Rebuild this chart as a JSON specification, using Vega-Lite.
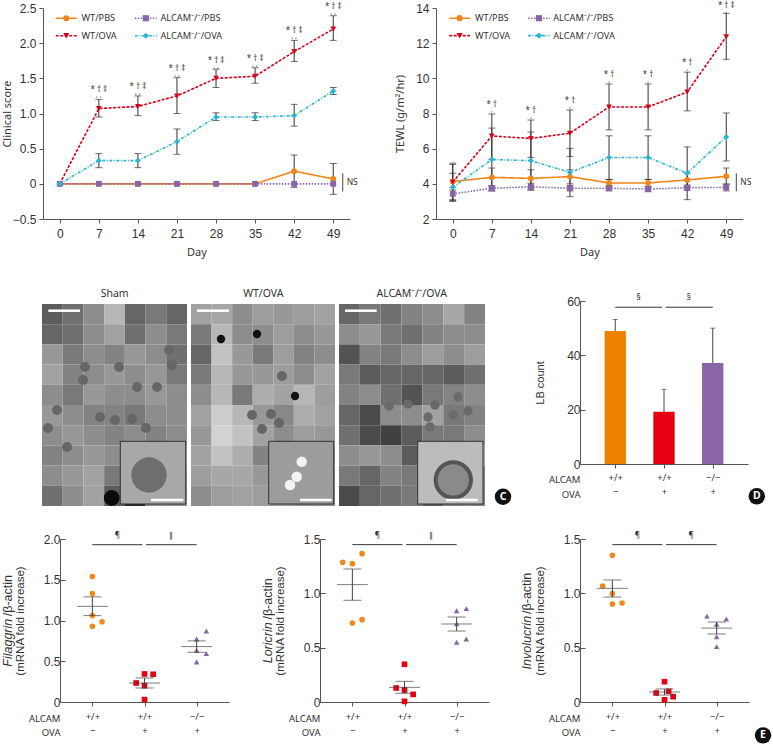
{"$schema":"https://vega.github.io/schema/vega-lite/v6.json","autosize":"none","width":773,"height":746,"padding":0,"background":"white",
"config":{"view":{"stroke":null},"axis":{"grid":false,"domainColor":"#555","tickColor":"#555","domainWidth":1,"tickWidth":1,"labelColor":"#333","titleColor":"#333","labelFont":"Liberation Sans","labelFontSize":12,"titleFont":"Noto Sans","titleFontSize":11,"titleFontWeight":"normal","labelFlush":false,"labelOverlap":false,"tickSize":4,"labelPadding":3},"text":{"font":"Noto Sans","color":"#333"}},
"resolve":{"scale":{"x":"independent","y":"independent","color":"independent","shape":"independent","strokeDash":"independent"},"axis":{"x":"independent","y":"independent"}},
"datasets":{
"clin":[
{"day":0,"series":"WT/PBS","score":0},{"day":7,"series":"WT/PBS","score":0},{"day":14,"series":"WT/PBS","score":0},{"day":21,"series":"WT/PBS","score":0},{"day":28,"series":"WT/PBS","score":0},{"day":35,"series":"WT/PBS","score":0},{"day":42,"series":"WT/PBS","score":0.18,"lo":-0.05,"hi":0.41},{"day":49,"series":"WT/PBS","score":0.07,"lo":-0.15,"hi":0.29},
{"day":0,"series":"WT/OVA","score":0},{"day":7,"series":"WT/OVA","score":1.07,"lo":0.95,"hi":1.2},{"day":14,"series":"WT/OVA","score":1.1,"lo":0.97,"hi":1.25},{"day":21,"series":"WT/OVA","score":1.25,"lo":1.0,"hi":1.51},{"day":28,"series":"WT/OVA","score":1.5,"lo":1.37,"hi":1.63},{"day":35,"series":"WT/OVA","score":1.53,"lo":1.43,"hi":1.65},{"day":42,"series":"WT/OVA","score":1.88,"lo":1.74,"hi":2.04},{"day":49,"series":"WT/OVA","score":2.2,"lo":2.04,"hi":2.39},
{"day":0,"series":"ALCAM⁻/⁻/PBS","score":0},{"day":7,"series":"ALCAM⁻/⁻/PBS","score":0},{"day":14,"series":"ALCAM⁻/⁻/PBS","score":0},{"day":21,"series":"ALCAM⁻/⁻/PBS","score":0},{"day":28,"series":"ALCAM⁻/⁻/PBS","score":0},{"day":35,"series":"ALCAM⁻/⁻/PBS","score":0},{"day":42,"series":"ALCAM⁻/⁻/PBS","score":0},{"day":49,"series":"ALCAM⁻/⁻/PBS","score":0},
{"day":0,"series":"ALCAM⁻/⁻/OVA","score":0},{"day":7,"series":"ALCAM⁻/⁻/OVA","score":0.33,"lo":0.23,"hi":0.43},{"day":14,"series":"ALCAM⁻/⁻/OVA","score":0.33,"lo":0.23,"hi":0.43},{"day":21,"series":"ALCAM⁻/⁻/OVA","score":0.6,"lo":0.42,"hi":0.78},{"day":28,"series":"ALCAM⁻/⁻/OVA","score":0.95,"lo":0.9,"hi":1.01},{"day":35,"series":"ALCAM⁻/⁻/OVA","score":0.95,"lo":0.9,"hi":1.01},{"day":42,"series":"ALCAM⁻/⁻/OVA","score":0.97,"lo":0.82,"hi":1.13},{"day":49,"series":"ALCAM⁻/⁻/OVA","score":1.32,"lo":1.27,"hi":1.37}],
"tewl":[
{"day":0,"series":"WT/PBS","score":4.13,"lo":3.65,"hi":4.6},{"day":7,"series":"WT/PBS","score":4.37,"lo":3.85,"hi":4.9},{"day":14,"series":"WT/PBS","score":4.31,"lo":3.85,"hi":4.8},{"day":21,"series":"WT/PBS","score":4.41,"lo":4.0,"hi":4.8},{"day":28,"series":"WT/PBS","score":4.05,"lo":3.85,"hi":4.25},{"day":35,"series":"WT/PBS","score":4.05,"lo":3.85,"hi":4.25},{"day":42,"series":"WT/PBS","score":4.22,"lo":3.85,"hi":4.6},{"day":49,"series":"WT/PBS","score":4.43,"lo":3.95,"hi":4.9},
{"day":0,"series":"WT/OVA","score":4.1,"lo":3.05,"hi":5.18},{"day":7,"series":"WT/OVA","score":6.72,"lo":5.4,"hi":7.97},{"day":14,"series":"WT/OVA","score":6.58,"lo":5.5,"hi":7.63},{"day":21,"series":"WT/OVA","score":6.88,"lo":5.56,"hi":8.2},{"day":28,"series":"WT/OVA","score":8.37,"lo":7.07,"hi":9.68},{"day":35,"series":"WT/OVA","score":8.37,"lo":7.07,"hi":9.68},{"day":42,"series":"WT/OVA","score":9.22,"lo":8.15,"hi":10.35},{"day":49,"series":"WT/OVA","score":12.37,"lo":11.08,"hi":13.7},
{"day":0,"series":"ALCAM⁻/⁻/PBS","score":3.43,"lo":3.1,"hi":3.8},{"day":7,"series":"ALCAM⁻/⁻/PBS","score":3.75,"lo":3.6,"hi":3.9},{"day":14,"series":"ALCAM⁻/⁻/PBS","score":3.83,"lo":3.63,"hi":4.03},{"day":21,"series":"ALCAM⁻/⁻/PBS","score":3.75,"lo":3.6,"hi":3.9},{"day":28,"series":"ALCAM⁻/⁻/PBS","score":3.75,"lo":3.6,"hi":3.9},{"day":35,"series":"ALCAM⁻/⁻/PBS","score":3.7,"lo":3.55,"hi":3.85},{"day":42,"series":"ALCAM⁻/⁻/PBS","score":3.78,"lo":3.63,"hi":3.93},{"day":49,"series":"ALCAM⁻/⁻/PBS","score":3.8,"lo":3.6,"hi":4.0},
{"day":0,"series":"ALCAM⁻/⁻/OVA","score":3.8,"lo":3.0,"hi":5.1},{"day":7,"series":"ALCAM⁻/⁻/OVA","score":5.38,"lo":3.6,"hi":7.17},{"day":14,"series":"ALCAM⁻/⁻/OVA","score":5.32,"lo":3.7,"hi":6.95},{"day":21,"series":"ALCAM⁻/⁻/OVA","score":4.65,"lo":3.27,"hi":6.02},{"day":28,"series":"ALCAM⁻/⁻/OVA","score":5.5,"lo":4.25,"hi":6.73},{"day":35,"series":"ALCAM⁻/⁻/OVA","score":5.5,"lo":4.25,"hi":6.73},{"day":42,"series":"ALCAM⁻/⁻/OVA","score":4.6,"lo":3.1,"hi":6.1},{"day":49,"series":"ALCAM⁻/⁻/OVA","score":6.67,"lo":5.3,"hi":8.03}],
"micro1":[
{"c":0,"r":0,"g":100},{"c":1,"r":0,"g":120},{"c":2,"r":0,"g":150},{"c":3,"r":0,"g":190},{"c":4,"r":0,"g":110},{"c":5,"r":0,"g":130},{"c":6,"r":0,"g":110},
{"c":0,"r":1,"g":110},{"c":1,"r":1,"g":120},{"c":2,"r":1,"g":150},{"c":3,"r":1,"g":170},{"c":4,"r":1,"g":120},{"c":5,"r":1,"g":150},{"c":6,"r":1,"g":130},
{"c":0,"r":2,"g":160},{"c":1,"r":2,"g":130},{"c":2,"r":2,"g":150},{"c":3,"r":2,"g":140},{"c":4,"r":2,"g":160},{"c":5,"r":2,"g":150},{"c":6,"r":2,"g":120},
{"c":0,"r":3,"g":170},{"c":1,"r":3,"g":140},{"c":2,"r":3,"g":150},{"c":3,"r":3,"g":160},{"c":4,"r":3,"g":150},{"c":5,"r":3,"g":160},{"c":6,"r":3,"g":130},
{"c":0,"r":4,"g":150},{"c":1,"r":4,"g":130},{"c":2,"r":4,"g":160},{"c":3,"r":4,"g":150},{"c":4,"r":4,"g":150},{"c":5,"r":4,"g":160},{"c":6,"r":4,"g":150},
{"c":0,"r":5,"g":160},{"c":1,"r":5,"g":150},{"c":2,"r":5,"g":140},{"c":3,"r":5,"g":140},{"c":4,"r":5,"g":130},{"c":5,"r":5,"g":150},{"c":6,"r":5,"g":150},
{"c":0,"r":6,"g":150},{"c":1,"r":6,"g":160},{"c":2,"r":6,"g":150},{"c":3,"r":6,"g":140},{"c":4,"r":6,"g":150},{"c":5,"r":6,"g":140},{"c":6,"r":6,"g":150},
{"c":0,"r":7,"g":140},{"c":1,"r":7,"g":150},{"c":2,"r":7,"g":160},{"c":3,"r":7,"g":150},{"c":4,"r":7,"g":140},{"c":5,"r":7,"g":170},{"c":6,"r":7,"g":170},
{"c":0,"r":8,"g":150},{"c":1,"r":8,"g":160},{"c":2,"r":8,"g":170},{"c":3,"r":8,"g":130},{"c":4,"r":8,"g":150},{"c":5,"r":8,"g":150},{"c":6,"r":8,"g":150},
{"c":0,"r":9,"g":120},{"c":1,"r":9,"g":150},{"c":2,"r":9,"g":170},{"c":3,"r":9,"g":100},{"c":4,"r":9,"g":40},{"c":5,"r":9,"g":150},{"c":6,"r":9,"g":150}],
"micro2":[
{"c":0,"r":0,"g":170},{"c":1,"r":0,"g":175},{"c":2,"r":0,"g":150},{"c":3,"r":0,"g":165},{"c":4,"r":0,"g":160},{"c":5,"r":0,"g":165},{"c":6,"r":0,"g":170},
{"c":0,"r":1,"g":130},{"c":1,"r":1,"g":190},{"c":2,"r":1,"g":150},{"c":3,"r":1,"g":150},{"c":4,"r":1,"g":165},{"c":5,"r":1,"g":150},{"c":6,"r":1,"g":160},
{"c":0,"r":2,"g":110},{"c":1,"r":2,"g":200},{"c":2,"r":2,"g":160},{"c":3,"r":2,"g":130},{"c":4,"r":2,"g":165},{"c":5,"r":2,"g":140},{"c":6,"r":2,"g":150},
{"c":0,"r":3,"g":130},{"c":1,"r":3,"g":190},{"c":2,"r":3,"g":160},{"c":3,"r":3,"g":160},{"c":4,"r":3,"g":165},{"c":5,"r":3,"g":150},{"c":6,"r":3,"g":170},
{"c":0,"r":4,"g":150},{"c":1,"r":4,"g":190},{"c":2,"r":4,"g":130},{"c":3,"r":4,"g":180},{"c":4,"r":4,"g":170},{"c":5,"r":4,"g":190},{"c":6,"r":4,"g":165},
{"c":0,"r":5,"g":170},{"c":1,"r":5,"g":210},{"c":2,"r":5,"g":190},{"c":3,"r":5,"g":160},{"c":4,"r":5,"g":145},{"c":5,"r":5,"g":180},{"c":6,"r":5,"g":170},
{"c":0,"r":6,"g":160},{"c":1,"r":6,"g":215},{"c":2,"r":6,"g":200},{"c":3,"r":6,"g":170},{"c":4,"r":6,"g":150},{"c":5,"r":6,"g":165},{"c":6,"r":6,"g":160},
{"c":0,"r":7,"g":170},{"c":1,"r":7,"g":200},{"c":2,"r":7,"g":180},{"c":3,"r":7,"g":140},{"c":4,"r":7,"g":130},{"c":5,"r":7,"g":155},{"c":6,"r":7,"g":150},
{"c":0,"r":8,"g":165},{"c":1,"r":8,"g":175},{"c":2,"r":8,"g":175},{"c":3,"r":8,"g":160},{"c":4,"r":8,"g":150},{"c":5,"r":8,"g":150},{"c":6,"r":8,"g":150},
{"c":0,"r":9,"g":150},{"c":1,"r":9,"g":165},{"c":2,"r":9,"g":170},{"c":3,"r":9,"g":165},{"c":4,"r":9,"g":160},{"c":5,"r":9,"g":150},{"c":6,"r":9,"g":150}],
"micro3":[
{"c":0,"r":0,"g":110},{"c":1,"r":0,"g":130},{"c":2,"r":0,"g":120},{"c":3,"r":0,"g":140},{"c":4,"r":0,"g":150},{"c":5,"r":0,"g":175},{"c":6,"r":0,"g":140},
{"c":0,"r":1,"g":150},{"c":1,"r":1,"g":160},{"c":2,"r":1,"g":130},{"c":3,"r":1,"g":120},{"c":4,"r":1,"g":140},{"c":5,"r":1,"g":150},{"c":6,"r":1,"g":150},
{"c":0,"r":2,"g":90},{"c":1,"r":2,"g":140},{"c":2,"r":2,"g":130},{"c":3,"r":2,"g":150},{"c":4,"r":2,"g":165},{"c":5,"r":2,"g":150},{"c":6,"r":2,"g":165},
{"c":0,"r":3,"g":130},{"c":1,"r":3,"g":100},{"c":2,"r":3,"g":110},{"c":3,"r":3,"g":110},{"c":4,"r":3,"g":110},{"c":5,"r":3,"g":100},{"c":6,"r":3,"g":120},
{"c":0,"r":4,"g":140},{"c":1,"r":4,"g":150},{"c":2,"r":4,"g":120},{"c":3,"r":4,"g":90},{"c":4,"r":4,"g":130},{"c":5,"r":4,"g":140},{"c":6,"r":4,"g":150},
{"c":0,"r":5,"g":110},{"c":1,"r":5,"g":80},{"c":2,"r":5,"g":150},{"c":3,"r":5,"g":150},{"c":4,"r":5,"g":170},{"c":5,"r":5,"g":130},{"c":6,"r":5,"g":140},
{"c":0,"r":6,"g":120},{"c":1,"r":6,"g":80},{"c":2,"r":6,"g":70},{"c":3,"r":6,"g":100},{"c":4,"r":6,"g":130},{"c":5,"r":6,"g":130},{"c":6,"r":6,"g":150},
{"c":0,"r":7,"g":150},{"c":1,"r":7,"g":160},{"c":2,"r":7,"g":150},{"c":3,"r":7,"g":100},{"c":4,"r":7,"g":140},{"c":5,"r":7,"g":140},{"c":6,"r":7,"g":170},
{"c":0,"r":8,"g":130},{"c":1,"r":8,"g":110},{"c":2,"r":8,"g":140},{"c":3,"r":8,"g":130},{"c":4,"r":8,"g":120},{"c":5,"r":8,"g":140},{"c":6,"r":8,"g":140},
{"c":0,"r":9,"g":80},{"c":1,"r":9,"g":110},{"c":2,"r":9,"g":120},{"c":3,"r":9,"g":130},{"c":4,"r":9,"g":100},{"c":5,"r":9,"g":140},{"c":6,"r":9,"g":140}]
},
"layer":[
{"data":{"name":"clin"},
"encoding":{"x":{"field":"day","type":"quantitative","scale":{"domain":[-3,52],"range":[43,350]},"axis":{"orient":"bottom","offset":-527,"values":[0,7,14,21,28,35,42,49],"title":"Day","titlePadding":7,"labelPadding":5}},"y":{"field":"score","type":"quantitative","scale":{"domain":[-0.5,2.5],"range":[219,8],"nice":false,"zero":false},"axis":{"orient":"left","offset":-43,"values":[-0.5,0,0.5,1,1.5,2,2.5],"title":"Clinical score","labelExpr":"datum.value==0?'0':replace(format(datum.value,'.1f'),'-','−')","titleX":-31}}},
"layer":[
{"mark":{"type":"rule","color":"#333","strokeWidth":1},"encoding":{"y":{"field":"lo","type":"quantitative"},"y2":{"field":"hi"}}},
{"mark":{"type":"tick","orient":"horizontal","size":7,"thickness":1,"color":"#333"},"encoding":{"y":{"field":"lo","type":"quantitative"}}},
{"mark":{"type":"tick","orient":"horizontal","size":7,"thickness":1,"color":"#333"},"encoding":{"y":{"field":"hi","type":"quantitative"}}},
{"mark":{"type":"line","strokeWidth":1.6},"encoding":{"color":{"field":"series","type":"nominal","legend":null,"scale":{"domain":["WT/PBS","WT/OVA","ALCAM⁻/⁻/PBS","ALCAM⁻/⁻/OVA"],"range":["#f08519","#d9001b","#8864a8","#2ab4d2"]}},"strokeDash":{"field":"series","type":"nominal","legend":null,"scale":{"domain":["WT/PBS","WT/OVA","ALCAM⁻/⁻/PBS","ALCAM⁻/⁻/OVA"],"range":[[1,0],[3,1.5],[1.5,1.5],[3,1.5,1,1.5]]}}}},
{"mark":{"type":"point","filled":true,"size":34,"opacity":1},"encoding":{"color":{"field":"series","type":"nominal","legend":null},"shape":{"field":"series","type":"nominal","legend":null,"scale":{"domain":["WT/PBS","WT/OVA","ALCAM⁻/⁻/PBS","ALCAM⁻/⁻/OVA"],"range":["circle","triangle-down","square","diamond"]}}}},
{"data":{"values":[{"series":"WT/PBS","day":-0.72,"day2":3.05,"mid":1.165,"lab":3.9,"score":2.354},{"series":"WT/OVA","day":-0.72,"day2":3.05,"mid":1.165,"lab":3.9,"score":2.106},{"series":"ALCAM⁻/⁻/PBS","day":13.45,"day2":17.39,"mid":15.42,"lab":18.05,"score":2.354},{"series":"ALCAM⁻/⁻/OVA","day":13.45,"day2":17.39,"mid":15.42,"lab":18.05,"score":2.106}]},"layer":[
{"mark":{"type":"rule","strokeWidth":1.6},"encoding":{"x2":{"field":"day2"},"color":{"field":"series","type":"nominal","legend":null},"strokeDash":{"field":"series","type":"nominal","legend":null}}},
{"mark":{"type":"point","filled":true,"size":38,"opacity":1},"encoding":{"x":{"field":"mid","type":"quantitative"},"color":{"field":"series","type":"nominal","legend":null},"shape":{"field":"series","type":"nominal","legend":null}}},
{"mark":{"type":"text","align":"left","fontSize":9.2},"encoding":{"x":{"field":"lab","type":"quantitative"},"text":{"field":"series"}}}]},
{"data":{"values":[{"day":7,"score":1.33,"t":"*  †  ‡"},{"day":14,"score":1.37,"t":"*  †  ‡"},{"day":21,"score":1.63,"t":"*  †  ‡"},{"day":28,"score":1.75,"t":"*  †  ‡"},{"day":35,"score":1.78,"t":"*  †  ‡"},{"day":42,"score":2.175,"t":"*  †  ‡"},{"day":49,"score":2.517,"t":"*  †  ‡"}]},"layer":[{"mark":{"type":"text","fontSize":8},"encoding":{"text":{"field":"t"}}},{"mark":{"type":"text","fontSize":7,"dy":5,"text":",    ,"}}]},
{"data":{"values":[{"day":50.7,"score":0.15,"s2":-0.11}]},"mark":{"type":"rule","color":"#444"},"encoding":{"y2":{"field":"s2"}}},
{"data":{"values":[{"day":51.4,"score":0.03,"t":"NS"}]},"mark":{"type":"text","align":"left","fontSize":8.5},"encoding":{"text":{"field":"t"}}},
{"data":{"values":[{"t":"A"}]},"layer":[{"mark":{"type":"point","filled":true,"color":"#111","size":270,"opacity":1},"encoding":{"x":{"datum":55.6},"y":{"datum":-0.97}}},{"mark":{"type":"text","color":"white","fontWeight":"bold","fontSize":10.5,"baseline":"middle"},"encoding":{"x":{"datum":55.6},"y":{"datum":-0.97},"text":{"field":"t"}}}]}
]},
{"data":{"name":"tewl"},
"encoding":{"x":{"field":"day","type":"quantitative","scale":{"domain":[-3,52],"range":[436,743]},"axis":{"orient":"bottom","offset":-527,"values":[0,7,14,21,28,35,42,49],"title":"Day","titlePadding":7,"labelPadding":5}},"y":{"field":"score","type":"quantitative","scale":{"domain":[2,14],"range":[219,8],"nice":false,"zero":false},"axis":{"orient":"left","offset":-436,"values":[2,4,6,8,10,12,14],"title":"TEWL (g/m²/hr)","titleX":-31}}},
"layer":[
{"mark":{"type":"rule","color":"#333","strokeWidth":1},"encoding":{"y":{"field":"lo","type":"quantitative"},"y2":{"field":"hi"}}},
{"mark":{"type":"tick","orient":"horizontal","size":7,"thickness":1,"color":"#333"},"encoding":{"y":{"field":"lo","type":"quantitative"}}},
{"mark":{"type":"tick","orient":"horizontal","size":7,"thickness":1,"color":"#333"},"encoding":{"y":{"field":"hi","type":"quantitative"}}},
{"mark":{"type":"line","strokeWidth":1.6},"encoding":{"color":{"field":"series","type":"nominal","legend":null,"scale":{"domain":["WT/PBS","WT/OVA","ALCAM⁻/⁻/PBS","ALCAM⁻/⁻/OVA"],"range":["#f08519","#d9001b","#8864a8","#2ab4d2"]}},"strokeDash":{"field":"series","type":"nominal","legend":null,"scale":{"domain":["WT/PBS","WT/OVA","ALCAM⁻/⁻/PBS","ALCAM⁻/⁻/OVA"],"range":[[1,0],[3,1.5],[1.5,1.5],[3,1.5,1,1.5]]}}}},
{"mark":{"type":"point","filled":true,"size":34,"opacity":1},"encoding":{"color":{"field":"series","type":"nominal","legend":null},"shape":{"field":"series","type":"nominal","legend":null,"scale":{"domain":["WT/PBS","WT/OVA","ALCAM⁻/⁻/PBS","ALCAM⁻/⁻/OVA"],"range":["circle","triangle-down","square","diamond"]}}}},
{"data":{"values":[{"series":"WT/PBS","day":-0.62,"day2":3.09,"mid":1.23,"lab":3.99,"score":13.42},{"series":"WT/OVA","day":-0.62,"day2":3.09,"mid":1.23,"lab":3.99,"score":12.43},{"series":"ALCAM⁻/⁻/PBS","day":13.5,"day2":17.4,"mid":15.45,"lab":18.0,"score":13.42},{"series":"ALCAM⁻/⁻/OVA","day":13.5,"day2":17.4,"mid":15.45,"lab":18.0,"score":12.43}]},"layer":[
{"mark":{"type":"rule","strokeWidth":1.6},"encoding":{"x2":{"field":"day2"},"color":{"field":"series","type":"nominal","legend":null},"strokeDash":{"field":"series","type":"nominal","legend":null}}},
{"mark":{"type":"point","filled":true,"size":38,"opacity":1},"encoding":{"x":{"field":"mid","type":"quantitative"},"color":{"field":"series","type":"nominal","legend":null},"shape":{"field":"series","type":"nominal","legend":null}}},
{"mark":{"type":"text","align":"left","fontSize":9.2},"encoding":{"x":{"field":"lab","type":"quantitative"},"text":{"field":"series"}}}]},
{"data":{"values":[{"day":7,"score":8.5,"t":"*  †"},{"day":14,"score":8.16,"t":"*  †"},{"day":21,"score":8.69,"t":"*  †"},{"day":28,"score":10.2,"t":"*  †"},{"day":35,"score":10.2,"t":"*  †"},{"day":42,"score":10.87,"t":"*  †"},{"day":49,"score":14.1,"t":"*  †  ‡"}]},"layer":[{"mark":{"type":"text","fontSize":8},"encoding":{"text":{"field":"t"}}},{"mark":{"type":"text","fontSize":7,"dy":5,"text":","}}]},
{"data":{"values":[{"day":50.8,"score":4.6,"s2":3.57}]},"mark":{"type":"rule","color":"#444"},"encoding":{"y2":{"field":"s2"}}},
{"data":{"values":[{"day":51.5,"score":4.1,"t":"NS"}]},"mark":{"type":"text","align":"left","fontSize":8.5},"encoding":{"text":{"field":"t"}}},
{"data":{"values":[{"t":"B"}]},"layer":[{"mark":{"type":"point","filled":true,"color":"#111","size":270,"opacity":1},"encoding":{"x":{"datum":55},"y":{"datum":0.12}}},{"mark":{"type":"text","color":"white","fontWeight":"bold","fontSize":10.5,"baseline":"middle"},"encoding":{"x":{"datum":55},"y":{"datum":0.12},"text":{"field":"t"}}}]}
]},
{"data":{"name":"micro1"},"mark":{"type":"rect"},"encoding":{"x":{"field":"c","type":"ordinal","axis":null,"scale":{"range":[42,187],"paddingInner":0,"paddingOuter":0}},"y":{"field":"r","type":"ordinal","axis":null,"scale":{"range":[304,506],"paddingInner":0,"paddingOuter":0}},"color":{"field":"g","type":"quantitative","legend":null,"scale":{"domain":[0,255],"range":["#000000","#ffffff"]}}}},
{"data":{"name":"micro2"},"mark":{"type":"rect"},"encoding":{"x":{"field":"c","type":"ordinal","axis":null,"scale":{"range":[191,335],"paddingInner":0,"paddingOuter":0}},"y":{"field":"r","type":"ordinal","axis":null,"scale":{"range":[304,506],"paddingInner":0,"paddingOuter":0}},"color":{"field":"g","type":"quantitative","legend":null,"scale":{"domain":[0,255],"range":["#000000","#ffffff"]}}}},
{"data":{"name":"micro3"},"mark":{"type":"rect"},"encoding":{"x":{"field":"c","type":"ordinal","axis":null,"scale":{"range":[339,485],"paddingInner":0,"paddingOuter":0}},"y":{"field":"r","type":"ordinal","axis":null,"scale":{"range":[304,506],"paddingInner":0,"paddingOuter":0}},"color":{"field":"g","type":"quantitative","legend":null,"scale":{"domain":[0,255],"range":["#000000","#ffffff"]}}}},
{"encoding":{"x":{"field":"x","type":"quantitative","axis":null,"scale":{"domain":[0,145],"range":[42,187]}},"y":{"field":"y","type":"quantitative","axis":null,"scale":{"domain":[0,202],"range":[304,506],"nice":false,"zero":false}}},
"layer":[
{"data":{"values":[{"x":127,"y":46},{"x":130,"y":61},{"x":43,"y":63},{"x":15,"y":106},{"x":58,"y":113},{"x":73,"y":116},{"x":90,"y":115},{"x":104,"y":124},{"x":6,"y":124},{"x":25,"y":143},{"x":115,"y":83},{"x":95,"y":83},{"x":41,"y":76},{"x":77,"y":63}]},"mark":{"type":"point","filled":true,"shape":"circle","size":100,"color":"#666","opacity":1}},
{"data":{"values":[{"x":69.7,"y":194}]},"mark":{"type":"point","filled":true,"shape":"circle","size":250,"color":"#0a0a0a","opacity":1}},
{"data":{"values":[{"x":78.3,"x2":143.7,"y":137.3,"y2":200}]},"mark":{"type":"rect","fill":"#a8a8a8","stroke":"#333","strokeWidth":1},"encoding":{"x2":{"field":"x2"},"y2":{"field":"y2"}}},
{"data":{"values":[{"x":107,"y":171}]},"mark":{"type":"point","filled":true,"shape":"circle","size":1256,"color":"#6e6e6e","opacity":1}},
{"data":{"values":[{"x":6.3,"x2":38,"y":6.7},{"x":109,"x2":141.3,"y":196}]},"mark":{"type":"rule","color":"white","strokeWidth":2.5},"encoding":{"x2":{"field":"x2"}}},
{"data":{"values":[{"x":72.7,"y":-10.3,"t":"Sham"}]},"mark":{"type":"text","fontSize":10.5},"encoding":{"text":{"field":"t"}}}
]},
{"encoding":{"x":{"field":"x","type":"quantitative","axis":null,"scale":{"domain":[0,144],"range":[191,335]}},"y":{"field":"y","type":"quantitative","axis":null,"scale":{"domain":[0,202],"range":[304,506],"nice":false,"zero":false}}},
"layer":[
{"data":{"values":[{"x":91,"y":72},{"x":80,"y":110},{"x":71,"y":125},{"x":88,"y":119},{"x":61,"y":111}]},"mark":{"type":"point","filled":true,"shape":"circle","size":100,"color":"#666","opacity":1}},
{"data":{"values":[{"x":30,"y":35},{"x":66,"y":30},{"x":104,"y":92}]},"mark":{"type":"point","filled":true,"shape":"circle","size":70,"color":"#111","opacity":1}},
{"data":{"values":[{"x":77.7,"x2":142.7,"y":137.3,"y2":200}]},"mark":{"type":"rect","fill":"#9c9c9c","stroke":"#333","strokeWidth":1},"encoding":{"x2":{"field":"x2"},"y2":{"field":"y2"}}},
{"data":{"values":[{"x":110.7,"y":157.7},{"x":105.7,"y":172.7},{"x":99,"y":181}]},"mark":{"type":"point","filled":true,"shape":"circle","size":110,"color":"#f2f2f2","opacity":1}},
{"data":{"values":[{"x":6,"x2":38,"y":6.7},{"x":109,"x2":140.7,"y":196}]},"mark":{"type":"rule","color":"white","strokeWidth":2.5},"encoding":{"x2":{"field":"x2"}}},
{"data":{"values":[{"x":72.3,"y":-10.3,"t":"WT/OVA"}]},"mark":{"type":"text","fontSize":10.5},"encoding":{"text":{"field":"t"}}}
]},
{"encoding":{"x":{"field":"x","type":"quantitative","axis":null,"scale":{"domain":[0,146],"range":[339,485]}},"y":{"field":"y","type":"quantitative","axis":null,"scale":{"domain":[0,202],"range":[304,506],"nice":false,"zero":false}}},
"layer":[
{"data":{"values":[{"x":119,"y":93},{"x":96,"y":101},{"x":50,"y":102},{"x":69,"y":100},{"x":129,"y":107},{"x":89,"y":113},{"x":91,"y":123},{"x":114,"y":111}]},"mark":{"type":"point","filled":true,"shape":"circle","size":90,"color":"#6a6a6a","opacity":1}},
{"data":{"values":[{"x":78.7,"x2":144,"y":137.3,"y2":200}]},"mark":{"type":"rect","fill":"#bcbcbc","stroke":"#333","strokeWidth":1},"encoding":{"x2":{"field":"x2"},"y2":{"field":"y2"}}},
{"data":{"values":[{"x":114.3,"y":176}]},"mark":{"type":"point","filled":true,"shape":"circle","size":1250,"fill":"#8a8a8a","stroke":"#555","strokeWidth":4,"opacity":1}},
{"data":{"values":[{"x":6,"x2":37.7,"y":6.7},{"x":107,"x2":138.7,"y":196}]},"mark":{"type":"rule","color":"white","strokeWidth":2.5},"encoding":{"x2":{"field":"x2"}}},
{"data":{"values":[{"x":72.7,"y":-10.3,"t":"ALCAM⁻/⁻/OVA"}]},"mark":{"type":"text","fontSize":10.5},"encoding":{"text":{"field":"t"}}},
{"data":{"values":[{"x":164,"y":192.7}]},"mark":{"type":"point","filled":true,"color":"#111","size":270,"opacity":1}},
{"data":{"values":[{"x":164,"y":192.7,"t":"C"}]},"mark":{"type":"text","color":"white","fontWeight":"bold","fontSize":10.5,"baseline":"middle"},"encoding":{"text":{"field":"t"}}}
]},
{"data":{"values":[{"x":1,"v":49,"hi":53.2,"g":"a"},{"x":2,"v":19.2,"hi":27.5,"g":"b"},{"x":3,"v":37.2,"hi":50,"g":"c"}]},
"encoding":{"x":{"field":"x","type":"quantitative","scale":{"domain":[0.379,3.621],"range":[580,748]},"axis":{"orient":"bottom","offset":-282,"values":[1,2,3],"labelExpr":"datum.value==3?['−/−','+']:(datum.value==1?['+/+','−']:['+/+','+'])","labelFont":"Noto Sans","labelFontSize":9.5,"labelLineHeight":14.5,"labelPadding":4,"title":["ALCAM","OVA"],"titleAlign":"right","titleBaseline":"top","titleX":580,"titleY":10.5,"titleFontSize":9.5,"titleLineHeight":14.5}},"y":{"field":"v","type":"quantitative","scale":{"domain":[0,60],"range":[464,301],"nice":false},"axis":{"orient":"left","offset":-580,"values":[0,20,40,60],"tickSize":-5,"labelPadding":5,"title":"LB count","titleFont":"Liberation Sans","titleFontSize":11,"titleX":-35}}},
"layer":[
{"mark":{"type":"rule","color":"#444"},"encoding":{"y":{"field":"v","type":"quantitative"},"y2":{"field":"hi"}}},
{"mark":{"type":"tick","orient":"horizontal","size":5,"thickness":1,"color":"#444"},"encoding":{"y":{"field":"hi","type":"quantitative"}}},
{"mark":{"type":"bar","orient":"vertical","size":21.3},"encoding":{"color":{"field":"g","type":"nominal","legend":null,"scale":{"domain":["a","b","c"],"range":["#f08000","#e60012","#8a65a5"]}}}},
{"data":{"values":[{"x":1,"x2":1.96,"v":57.7},{"x":2.03,"x2":3,"v":57.7}]},"mark":{"type":"rule","color":"#333"},"encoding":{"x2":{"field":"x2"}}},
{"data":{"values":[{"x":1.48,"v":61,"t":"§"},{"x":2.51,"v":61,"t":"§"}]},"mark":{"type":"text","fontSize":8},"encoding":{"text":{"field":"t"}}},
{"data":{"values":[{"x":3.904,"v":-11.9}]},"mark":{"type":"point","filled":true,"color":"#111","size":270,"opacity":1}},
{"data":{"values":[{"x":3.904,"v":-11.9,"t":"D"}]},"mark":{"type":"text","color":"white","fontWeight":"bold","fontSize":10.5,"baseline":"middle"},"encoding":{"text":{"field":"t"}}}
]},
{"data":{"values":[{"x":1,"v":1.54,"g":"a"},{"x":1,"v":1.33,"g":"a"},{"x":1,"v":1.06,"g":"a"},{"x":1.186,"v":0.985,"g":"a"},{"x":1,"v":0.93,"g":"a"},{"x":2,"v":0.344,"g":"b"},{"x":2.166,"v":0.34,"g":"b"},{"x":1.84,"v":0.233,"g":"b"},{"x":2,"v":0.2,"g":"b"},{"x":2,"v":0.03,"g":"b"},{"x":3.186,"v":0.87,"g":"c"},{"x":3,"v":0.773,"g":"c"},{"x":3,"v":0.634,"g":"c"},{"x":3.186,"v":0.593,"g":"c"},{"x":3,"v":0.49,"g":"c"}]},
"encoding":{"x":{"field":"x","type":"quantitative","scale":{"domain":[0.379,3.621],"range":[60,229]},"axis":{"orient":"bottom","offset":-44,"values":[1,2,3],"labelExpr":"datum.value==3?['−/−','+']:(datum.value==1?['+/+','−']:['+/+','+'])","labelFont":"Noto Sans","labelFontSize":9.5,"labelLineHeight":14.5,"labelPadding":5,"title":["ALCAM","OVA"],"titleAlign":"right","titleBaseline":"top","titleX":60,"titleY":11,"titleFontSize":9.5,"titleLineHeight":14.5}},"y":{"field":"v","type":"quantitative","scale":{"domain":[0,2],"range":[702,539],"nice":false},"axis":{"orient":"left","offset":-60,"values":[0,0.5,1,1.5,2],"tickSize":-5,"labelPadding":5,"labelExpr":"datum.value==0?'0':format(datum.value,'.1f')","title":"(mRNA fold increase)","titleFont":"Liberation Sans","titleFontSize":11.5,"titleX":-35}}},
"layer":[
{"mark":{"type":"point","filled":true,"size":32,"opacity":1},"encoding":{"color":{"field":"g","type":"nominal","legend":null,"scale":{"domain":["a","b","c"],"range":["#ee8a1c","#e60012","#8a65a5"]}},"shape":{"field":"g","type":"nominal","legend":null,"scale":{"domain":["a","b","c"],"range":["circle","square","triangle-up"]}}}},
{"data":{"values":[{"x":1,"m":1.174,"lo":1.06,"hi":1.29},{"x":2,"m":0.233,"lo":0.172,"hi":0.295},{"x":3,"m":0.68,"lo":0.61,"hi":0.75}]},"layer":[
{"mark":{"type":"rule","color":"#444"},"encoding":{"y":{"field":"lo","type":"quantitative"},"y2":{"field":"hi"}}},
{"mark":{"type":"tick","orient":"horizontal","size":18,"thickness":1,"color":"#444"},"encoding":{"y":{"field":"lo","type":"quantitative"}}},
{"mark":{"type":"tick","orient":"horizontal","size":18,"thickness":1,"color":"#444"},"encoding":{"y":{"field":"hi","type":"quantitative"}}},
{"mark":{"type":"tick","orient":"horizontal","size":31,"thickness":1,"color":"#444"},"encoding":{"y":{"field":"m","type":"quantitative"}}}]},
{"data":{"values":[{"x":1,"x2":1.96,"v":1.93},{"x":2.03,"x2":3,"v":1.93}]},"mark":{"type":"rule","color":"#333"},"encoding":{"x2":{"field":"x2"}}},
{"data":{"values":[{"x":1.48,"v":2.04,"t":"¶"},{"x":2.51,"v":2.04,"t":"∥"}]},"mark":{"type":"text","fontSize":8},"encoding":{"text":{"field":"t"}}},
{"data":{"values":[{"x":-0.61,"v":0.433,"t":"Filaggrin"}]},"mark":{"type":"text","angle":270,"align":"left","baseline":"middle","font":"Liberation Sans","fontStyle":"italic","fontSize":12.5},"encoding":{"text":{"field":"t"}}},
{"data":{"values":[{"x":-0.61,"v":1.558,"t":"/β-actin"}]},"mark":{"type":"text","angle":270,"align":"right","baseline":"middle","font":"Liberation Sans","fontSize":12.5},"encoding":{"text":{"field":"t"}}}
]},
{"data":{"values":[{"x":0.814,"v":1.285,"g":"a"},{"x":1,"v":1.273,"g":"a"},{"x":1.186,"v":1.365,"g":"a"},{"x":1,"v":0.727,"g":"a"},{"x":1.186,"v":0.758,"g":"a"},{"x":2,"v":0.347,"g":"b"},{"x":1.84,"v":0.129,"g":"b"},{"x":2,"v":0.11,"g":"b"},{"x":2.166,"v":0.07,"g":"b"},{"x":2,"v":0.006,"g":"b"},{"x":3,"v":0.84,"g":"c"},{"x":3.186,"v":0.859,"g":"c"},{"x":3,"v":0.72,"g":"c"},{"x":3.186,"v":0.58,"g":"c"},{"x":3,"v":0.55,"g":"c"}]},
"encoding":{"x":{"field":"x","type":"quantitative","scale":{"domain":[0.379,3.621],"range":[320,489]},"axis":{"orient":"bottom","offset":-44,"values":[1,2,3],"labelExpr":"datum.value==3?['−/−','+']:(datum.value==1?['+/+','−']:['+/+','+'])","labelFont":"Noto Sans","labelFontSize":9.5,"labelLineHeight":14.5,"labelPadding":5,"title":["ALCAM","OVA"],"titleAlign":"right","titleBaseline":"top","titleX":320,"titleY":11,"titleFontSize":9.5,"titleLineHeight":14.5}},"y":{"field":"v","type":"quantitative","scale":{"domain":[0,1.5],"range":[702,539],"nice":false},"axis":{"orient":"left","offset":-320,"values":[0,0.5,1,1.5],"tickSize":-5,"labelPadding":5,"labelExpr":"datum.value==0?'0':format(datum.value,'.1f')","title":"(mRNA fold increase)","titleFont":"Liberation Sans","titleFontSize":11.5,"titleX":-35}}},
"layer":[
{"mark":{"type":"point","filled":true,"size":32,"opacity":1},"encoding":{"color":{"field":"g","type":"nominal","legend":null,"scale":{"domain":["a","b","c"],"range":["#ee8a1c","#e60012","#8a65a5"]}},"shape":{"field":"g","type":"nominal","legend":null,"scale":{"domain":["a","b","c"],"range":["circle","square","triangle-up"]}}}},
{"data":{"values":[{"x":1,"m":1.08,"lo":0.936,"hi":1.224},{"x":2,"m":0.135,"lo":0.08,"hi":0.19},{"x":3,"m":0.718,"lo":0.653,"hi":0.782}]},"layer":[
{"mark":{"type":"rule","color":"#444"},"encoding":{"y":{"field":"lo","type":"quantitative"},"y2":{"field":"hi"}}},
{"mark":{"type":"tick","orient":"horizontal","size":18,"thickness":1,"color":"#444"},"encoding":{"y":{"field":"lo","type":"quantitative"}}},
{"mark":{"type":"tick","orient":"horizontal","size":18,"thickness":1,"color":"#444"},"encoding":{"y":{"field":"hi","type":"quantitative"}}},
{"mark":{"type":"tick","orient":"horizontal","size":31,"thickness":1,"color":"#444"},"encoding":{"y":{"field":"m","type":"quantitative"}}}]},
{"data":{"values":[{"x":1,"x2":1.96,"v":1.448},{"x":2.03,"x2":3,"v":1.448}]},"mark":{"type":"rule","color":"#333"},"encoding":{"x2":{"field":"x2"}}},
{"data":{"values":[{"x":1.48,"v":1.53,"t":"¶"},{"x":2.51,"v":1.53,"t":"∥"}]},"mark":{"type":"text","fontSize":8},"encoding":{"text":{"field":"t"}}},
{"data":{"values":[{"x":-0.61,"v":0.356,"t":"Loricrin"}]},"mark":{"type":"text","angle":270,"align":"left","baseline":"middle","font":"Liberation Sans","fontStyle":"italic","fontSize":12.5},"encoding":{"text":{"field":"t"}}},
{"data":{"values":[{"x":-0.61,"v":1.138,"t":"/β-actin"}]},"mark":{"type":"text","angle":270,"align":"right","baseline":"middle","font":"Liberation Sans","fontSize":12.5},"encoding":{"text":{"field":"t"}}}
]},
{"data":{"values":[{"x":1,"v":1.35,"g":"a"},{"x":0.814,"v":1.067,"g":"a"},{"x":1,"v":0.997,"g":"a"},{"x":1,"v":0.902,"g":"a"},{"x":1.186,"v":0.911,"g":"a"},{"x":2,"v":0.187,"g":"b"},{"x":1.84,"v":0.083,"g":"b"},{"x":2.08,"v":0.098,"g":"b"},{"x":2.166,"v":0.049,"g":"b"},{"x":2,"v":0.02,"g":"b"},{"x":2.814,"v":0.79,"g":"c"},{"x":3,"v":0.715,"g":"c"},{"x":3.186,"v":0.764,"g":"c"},{"x":3,"v":0.6,"g":"c"},{"x":3,"v":0.51,"g":"c"}]},
"encoding":{"x":{"field":"x","type":"quantitative","scale":{"domain":[0.379,3.621],"range":[580,749]},"axis":{"orient":"bottom","offset":-44,"values":[1,2,3],"labelExpr":"datum.value==3?['−/−','+']:(datum.value==1?['+/+','−']:['+/+','+'])","labelFont":"Noto Sans","labelFontSize":9.5,"labelLineHeight":14.5,"labelPadding":5,"title":["ALCAM","OVA"],"titleAlign":"right","titleBaseline":"top","titleX":580,"titleY":11,"titleFontSize":9.5,"titleLineHeight":14.5}},"y":{"field":"v","type":"quantitative","scale":{"domain":[0,1.5],"range":[702,539],"nice":false},"axis":{"orient":"left","offset":-580,"values":[0,0.5,1,1.5],"tickSize":-5,"labelPadding":5,"labelExpr":"datum.value==0?'0':format(datum.value,'.1f')","title":"(mRNA fold increase)","titleFont":"Liberation Sans","titleFontSize":11.5,"titleX":-35}}},
"layer":[
{"mark":{"type":"point","filled":true,"size":32,"opacity":1},"encoding":{"color":{"field":"g","type":"nominal","legend":null,"scale":{"domain":["a","b","c"],"range":["#ee8a1c","#e60012","#8a65a5"]}},"shape":{"field":"g","type":"nominal","legend":null,"scale":{"domain":["a","b","c"],"range":["circle","square","triangle-up"]}}}},
{"data":{"values":[{"x":1,"m":1.046,"lo":0.966,"hi":1.123},{"x":2,"m":0.092,"lo":0.064,"hi":0.12},{"x":3,"m":0.68,"lo":0.626,"hi":0.736}]},"layer":[
{"mark":{"type":"rule","color":"#444"},"encoding":{"y":{"field":"lo","type":"quantitative"},"y2":{"field":"hi"}}},
{"mark":{"type":"tick","orient":"horizontal","size":18,"thickness":1,"color":"#444"},"encoding":{"y":{"field":"lo","type":"quantitative"}}},
{"mark":{"type":"tick","orient":"horizontal","size":18,"thickness":1,"color":"#444"},"encoding":{"y":{"field":"hi","type":"quantitative"}}},
{"mark":{"type":"tick","orient":"horizontal","size":31,"thickness":1,"color":"#444"},"encoding":{"y":{"field":"m","type":"quantitative"}}}]},
{"data":{"values":[{"x":1,"x2":1.96,"v":1.448},{"x":2.03,"x2":3,"v":1.448}]},"mark":{"type":"rule","color":"#333"},"encoding":{"x2":{"field":"x2"}}},
{"data":{"values":[{"x":1.48,"v":1.53,"t":"¶"},{"x":2.51,"v":1.53,"t":"¶"}]},"mark":{"type":"text","fontSize":8},"encoding":{"text":{"field":"t"}}},
{"data":{"values":[{"x":-0.64,"v":0.30,"t":"Involucrin"}]},"mark":{"type":"text","angle":270,"align":"left","baseline":"middle","font":"Liberation Sans","fontStyle":"italic","fontSize":12.5},"encoding":{"text":{"field":"t"}}},
{"data":{"values":[{"x":-0.64,"v":1.19,"t":"/β-actin"}]},"mark":{"type":"text","angle":270,"align":"right","baseline":"middle","font":"Liberation Sans","fontSize":12.5},"encoding":{"text":{"field":"t"}}},
{"data":{"values":[{"x":3.89,"v":-0.307}]},"mark":{"type":"point","filled":true,"color":"#111","size":270,"opacity":1}},
{"data":{"values":[{"x":3.89,"v":-0.307,"t":"E"}]},"mark":{"type":"text","color":"white","fontWeight":"bold","fontSize":10.5,"baseline":"middle"},"encoding":{"text":{"field":"t"}}}
]}
]}
